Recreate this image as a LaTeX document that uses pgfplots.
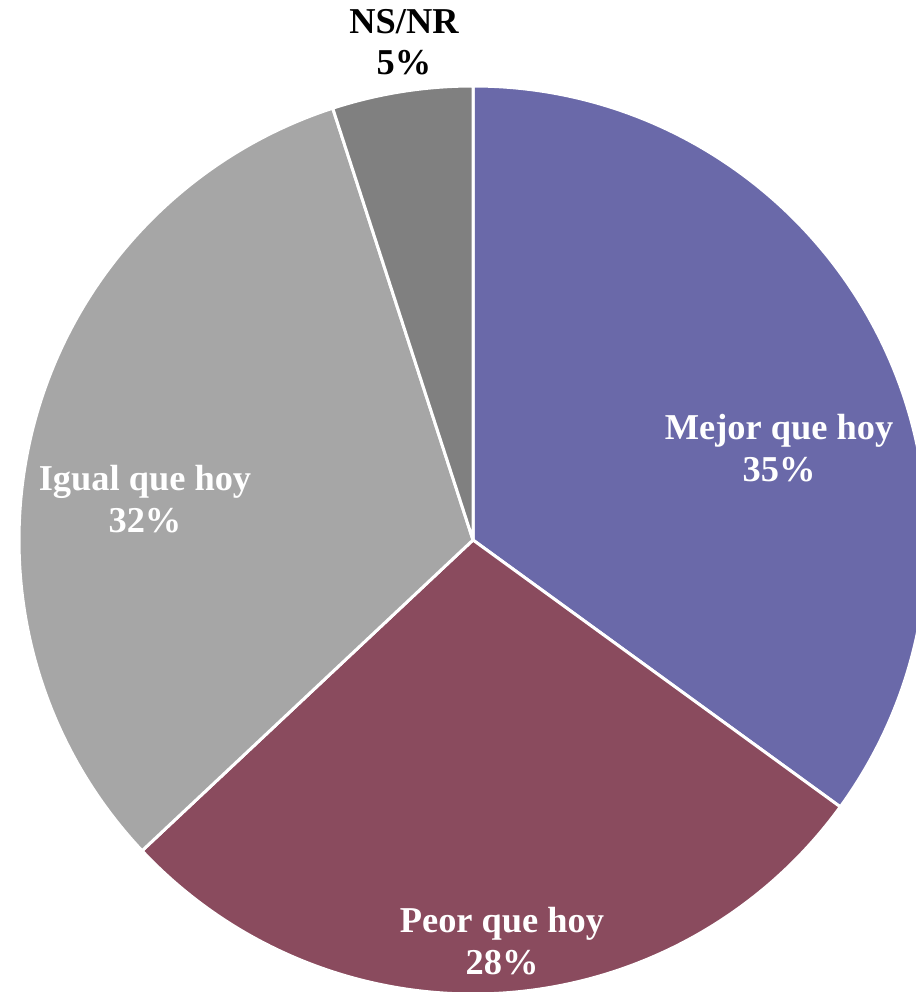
\documentclass[border=0pt]{standalone}
\usepackage{fontspec}
\setmainfont{Liberation Serif}
\usepackage{pgfplots}
\pgfplotsset{compat=1.18}

\definecolor{mejor}{HTML}{6A69A9}
\definecolor{peor}{HTML}{8A4B5E}
\definecolor{igual}{HTML}{A6A6A6}
\definecolor{nsnr}{HTML}{808080}

% centre (473,452), radius 454 units = 227pt (1 unit = 0.5pt)
% #1 = percent before this slice, #2 = percent of slice, #3 = colour
\newcommand{\pieslice}[3]{%
  \fill[#3, draw=white, line width=1.5pt, line join=round]
    (axis cs:473,452) -- ++({90-3.6*#1}:227pt)
    arc[start angle={90-3.6*#1}, delta angle={-3.6*#2}, radius=227pt] -- cycle;
}

\begin{document}
\begin{tikzpicture}[
  lbl/.style={font=\fontsize{18.2}{20.8}\selectfont\bfseries, align=center},
]
\begin{axis}[
  width=458pt, height=496pt, scale only axis,
  xmin=0, xmax=916, ymin=0, ymax=992,
  axis lines=none, clip=true,
]
\pieslice{0}{35}{mejor}
\pieslice{35}{28}{peor}
\pieslice{63}{32}{igual}
\pieslice{95}{5}{nsnr}

\node[white, lbl] at (axis cs:779,544) {Mejor que hoy\\35\%};
\node[white, lbl] at (axis cs:502,51) {Peor que hoy\\28\%};
\node[white, lbl] at (axis cs:145,493) {Igual que hoy\\32\%};
\node[black, lbl] at (axis cs:404,950) {NS/NR\\5\%};
\end{axis}
\pgfresetboundingbox
\path (0,0) rectangle (458pt,496pt);
\end{tikzpicture}
\end{document}
